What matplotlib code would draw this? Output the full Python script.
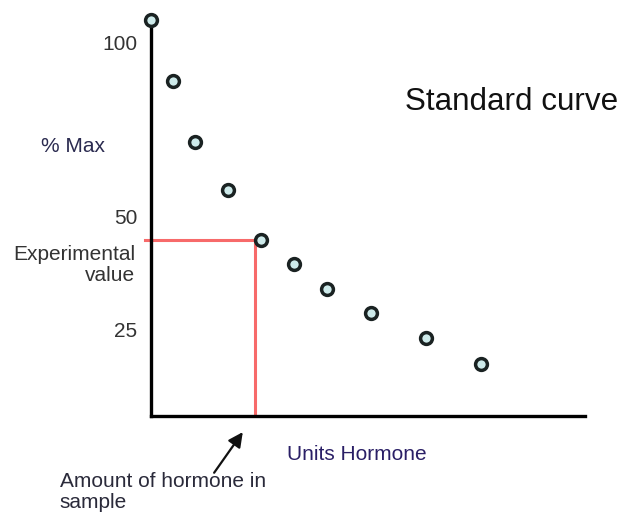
import matplotlib.pyplot as plt
from matplotlib.transforms import ScaledTranslation

plt.rcParams['font.family'] = ['Liberation Sans', 'DejaVu Sans']

# standard curve points (units hormone, % max)
units = [0, 2, 4, 7, 10, 13, 16, 20, 25, 30]
pct_max = [106, 89.6, 73.3, 60.4, 47.1, 40.6, 34.0, 27.5, 20.9, 13.9]

yticks = [25, 50, 100]
exp_value = 47      # experimental value (% max)
exp_amount = 9.5    # amount of hormone

fig = plt.figure(figsize=(6.25, 5.16), dpi=100)
ax = fig.add_axes([151 / 625, 100 / 516, 434 / 625, 396 / 516])

ax.set_xlim(0, 39.5)
ax.set_ylim(0, 106)

# red guide lines
ax.plot([-0.55, exp_amount + 0.5], [exp_value, exp_value], color='#f76a6a', lw=2.2,
        clip_on=False, zorder=2)
ax.plot([exp_amount, exp_amount], [0, exp_value], color='#f76a6a', lw=2.2, zorder=2)

ax.plot(units, pct_max, 'o', ms=8.5, mfc='#cdeaea', mec='#1a2222', mew=2.5,
        clip_on=False, zorder=4)

for s in ['top', 'right']:
    ax.spines[s].set_visible(False)
for s in ['left', 'bottom']:
    ax.spines[s].set_linewidth(2.4)
    ax.spines[s].set_color('black')

ax.set_xticks([])
ax.set_yticks(yticks)
ax.set_yticklabels([str(t) for t in yticks], fontsize=15, color='#333333')
ax.tick_params(axis='y', length=0, pad=10)

# the hand-drawn labels sit a little off the linear scale
nudges = {'50': 9 / 72, '25': -5 / 72}
for lab in ax.get_yticklabels():
    dy = nudges.get(lab.get_text(), 0)
    if dy:
        lab.set_transform(lab.get_transform() + ScaledTranslation(0, dy, fig.dpi_scale_trans))

ax.text(23.1, 84, 'Standard curve', fontsize=22.6, va='center', ha='left', color='#111111')
ax.text(-7.1, 72.2, '% Max', fontsize=15, va='center', ha='center', color='#2b2b50')
ax.text(-1.45, 40.4, 'Experimental\nvalue', fontsize=15, va='center', ha='right',
        multialignment='right', linespacing=1.1, color='#333333')
ax.text(12.4, -10.4, 'Units Hormone', fontsize=15, va='center', ha='left', color='#2a1f66')
ax.text(-8.3, -20.3, 'Amount of hormone in\nsample', fontsize=15, va='center', ha='left',
        linespacing=1.1, color='#2a2a3a')

ax.annotate('', xy=(8.5, -3.7), xytext=(5.6, -15.8), xycoords='data',
            arrowprops=dict(arrowstyle='-|>', color='#111111', lw=1.6, mutation_scale=22),
            annotation_clip=False)

fig.savefig('out.png', dpi=100)
